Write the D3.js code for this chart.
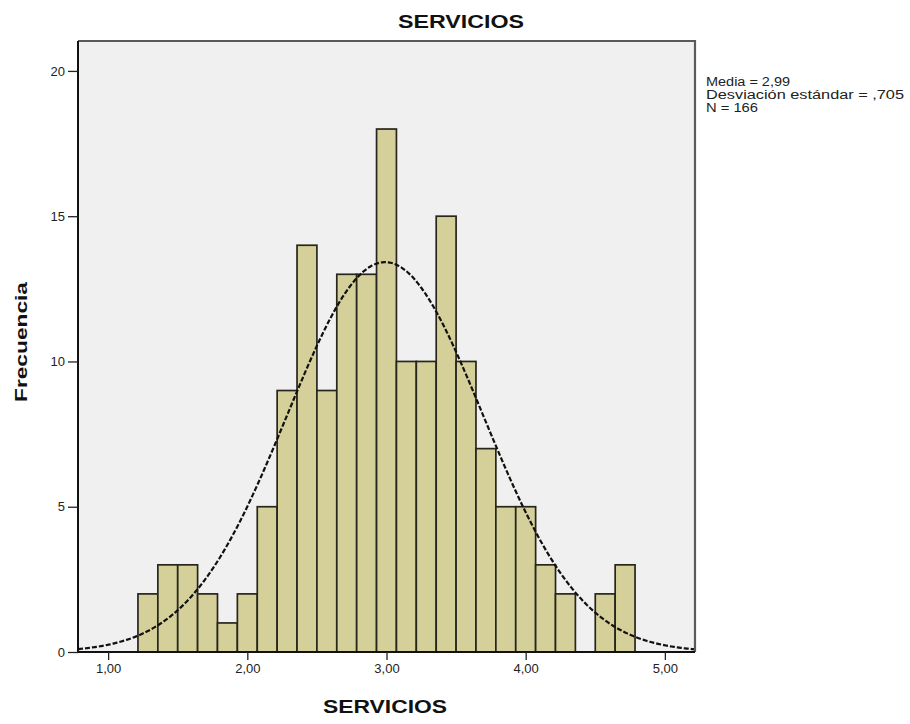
<!DOCTYPE html>
<html>
<head>
<meta charset="utf-8">
<script src="https://cdn.jsdelivr.net/npm/d3@7"></script>
<style>
  html, body { margin: 0; padding: 0; background: #ffffff; }
  svg { display: block; }
  text { font-family: "Liberation Sans", Arial, sans-serif; }
</style>
</head>
<body>
<svg id="chart" width="910" height="724"></svg>
<script>
// ---- data ----
const binCenters = [1.2857, 1.4286, 1.5714, 1.7143, 1.8571, 2.0000, 2.1429, 2.2857, 2.4286, 2.5714,
                    2.7143, 2.8571, 3.0000, 3.1429, 3.2857, 3.4286, 3.5714, 3.7143, 3.8571, 4.0000,
                    4.1429, 4.2857, 4.4286, 4.5714, 4.7143];
const frequencies = [2, 3, 3, 2, 1, 2, 5, 9, 14, 9, 13, 13, 18, 10, 10, 15, 10, 7, 5, 5, 3, 2, 0, 2, 3];
const binWidth = 0.142857;
const xTicks = [1, 2, 3, 4, 5];
const yTicks = [0, 5, 10, 15, 20];
const stats = { mean: 2.99, sd: 0.705, n: 166 };
const legendLines = ["Media = 2,99", "Desviación estándar = ,705", "N = 166"];
const titleText = "SERVICIOS";
const xLabel = "SERVICIOS";
const yLabel = "Frecuencia";

// ---- layout ----
const plot = { left: 78, right: 695, top: 41, bottom: 652 };
const svg = d3.select("#chart");

const x = d3.scaleLinear().domain([0.7835, 5.2165]).range([plot.left, plot.right]);
const y = d3.scaleLinear().domain([0, 21.03]).range([plot.bottom, plot.top]);

// plot background
svg.append("rect")
  .attr("x", plot.left).attr("y", plot.top)
  .attr("width", plot.right - plot.left).attr("height", plot.bottom - plot.top)
  .attr("fill", "#f0f0f0");

// bars
const bars = binCenters.map((c, i) => ({ c, f: frequencies[i] })).filter(d => d.f > 0);
svg.append("g").selectAll("rect").data(bars).join("rect")
  .attr("x", d => x(d.c - binWidth / 2))
  .attr("y", d => y(d.f))
  .attr("width", d => x(d.c + binWidth / 2) - x(d.c - binWidth / 2))
  .attr("height", d => y(0) - y(d.f))
  .attr("fill", "#d5d09a")
  .attr("stroke", "#26261c")
  .attr("stroke-width", 1.7);

// normal curve (fitted from the stated mean / sd / N)
const dom = x.domain();
const curvePts = d3.range(0, 301).map(i => dom[0] + (dom[1] - dom[0]) * i / 300);
const dens = v => stats.n * binWidth / (stats.sd * Math.sqrt(2 * Math.PI)) *
                  Math.exp(-0.5 * Math.pow((v - stats.mean) / stats.sd, 2));
svg.append("path")
  .datum(curvePts)
  .attr("d", d3.line().x(v => x(v)).y(v => y(dens(v))).curve(d3.curveBasis))
  .attr("fill", "none")
  .attr("stroke", "#111")
  .attr("stroke-width", 2.2)
  .attr("stroke-dasharray", "5,2");

// frame (top / right)
svg.append("path")
  .attr("d", `M${plot.left},${plot.top}H${plot.right}V${plot.bottom}`)
  .attr("fill", "none").attr("stroke", "#5a5a5a").attr("stroke-width", 2.2);

// axes
const fmt = d => d3.format(".2f")(d).replace(".", ",");
const xAxis = svg.append("g")
  .attr("transform", `translate(0,${plot.bottom})`)
  .call(d3.axisBottom(x).tickValues(xTicks).tickFormat(fmt).tickSize(8).tickPadding(4).tickSizeOuter(0));
const yAxis = svg.append("g")
  .attr("transform", `translate(${plot.left},0)`)
  .call(d3.axisLeft(y).tickValues(yTicks).tickFormat(d3.format("d")).tickSize(10).tickPadding(3).tickSizeOuter(0));

[xAxis, yAxis].forEach(g => {
  g.select(".domain").attr("stroke", "#111").attr("stroke-width", 2);
  g.selectAll(".tick line").attr("stroke", "#222").attr("stroke-width", 1.3);
  g.selectAll(".tick text").attr("fill", "#222").style("font-size", "13px")
    .style("font-family", "'Liberation Sans', Arial, sans-serif");
});
yAxis.select(".domain").attr("d", `M0,${plot.top}V${plot.bottom}`);
xAxis.select(".domain").attr("d", `M${plot.left},0H${plot.right}`);

// title
svg.append("text")
  .attr("x", 461).attr("y", 28)
  .attr("text-anchor", "middle")
  .attr("font-weight", "bold").attr("font-size", 18)
  .attr("fill", "#111")
  .attr("textLength", 126).attr("lengthAdjust", "spacingAndGlyphs")
  .text(titleText);

// x label
svg.append("text")
  .attr("x", 385).attr("y", 713)
  .attr("text-anchor", "middle")
  .attr("font-weight", "bold").attr("font-size", 18)
  .attr("fill", "#111")
  .attr("textLength", 124).attr("lengthAdjust", "spacingAndGlyphs")
  .text(xLabel);

// y label
svg.append("text")
  .attr("transform", "translate(27,342) rotate(-90)")
  .attr("text-anchor", "middle")
  .attr("font-weight", "bold").attr("font-size", 16)
  .attr("fill", "#111")
  .attr("textLength", 120).attr("lengthAdjust", "spacingAndGlyphs")
  .text(yLabel);

// legend / stats
const legendWidths = [84, 198, 52];
svg.append("g").selectAll("text").data(legendLines).join("text")
  .attr("x", 706)
  .attr("y", (d, i) => 86 + i * 13)
  .attr("font-size", 12)
  .attr("fill", "#222")
  .attr("textLength", (d, i) => legendWidths[i])
  .attr("lengthAdjust", "spacingAndGlyphs")
  .text(d => d);
</script>
</body>
</html>
